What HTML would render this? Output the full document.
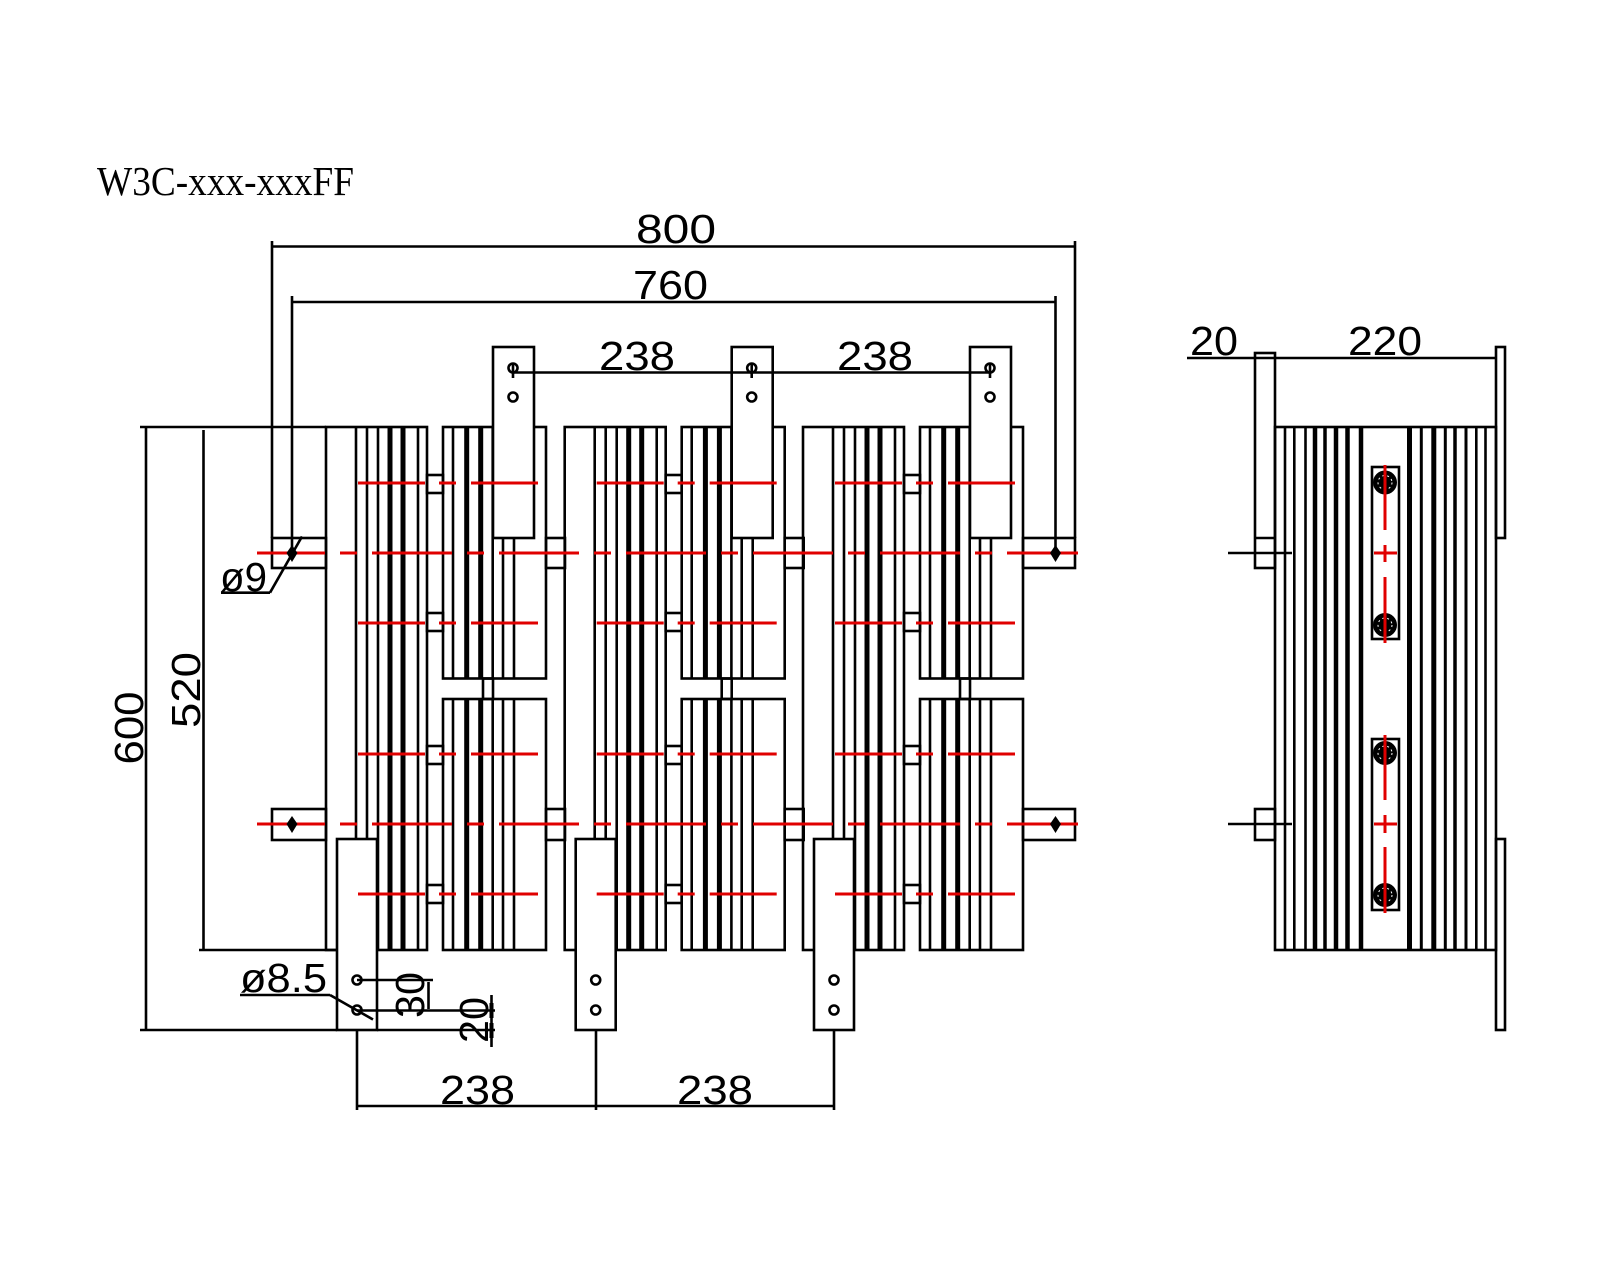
<!DOCTYPE html>
<html><head><meta charset="utf-8"><style>
html,body{margin:0;padding:0;background:#fff;}
svg{display:block;}
text{font-family:"Liberation Sans",sans-serif;fill:#000;}
</style></head><body>
<svg width="1600" height="1280" viewBox="0 0 1600 1280" xmlns="http://www.w3.org/2000/svg">
<rect x="0" y="0" width="1600" height="1280" fill="#fff"/>

<!-- Title -->
<text x="97" y="195" font-size="41" textLength="257" lengthAdjust="spacingAndGlyphs" style="font-family:'Liberation Serif',serif">W3C-xxx-xxxFF</text>

<!-- ===== Dimension extension lines (front) ===== -->
<g stroke="#000" stroke-width="2.6" fill="none">
  <!-- 800 -->
  <line x1="272" y1="241" x2="272" y2="538"/>
  <line x1="1075" y1="241" x2="1075" y2="538"/>
  <line x1="272" y1="246.5" x2="1075" y2="246.5"/>
  <!-- 760 -->
  <line x1="292" y1="296" x2="292" y2="553"/>
  <line x1="1055.5" y1="296" x2="1055.5" y2="553"/>
  <line x1="292" y1="302" x2="1055.5" y2="302"/>
  <!-- 600 -->
  <line x1="140" y1="427" x2="326" y2="427"/>
  <line x1="146" y1="427" x2="146" y2="1030"/>
  <line x1="140" y1="1030" x2="337" y2="1030"/>
  <line x1="377" y1="1030" x2="495" y2="1030"/>
  <!-- 520 -->
  <line x1="203.5" y1="430" x2="203.5" y2="950"/>
  <line x1="199" y1="950" x2="337" y2="950"/>
  <!-- bottom 238 -->
  <line x1="357" y1="1030" x2="357" y2="1110"/>
  <line x1="596" y1="1030" x2="596" y2="1110"/>
  <line x1="834" y1="1030" x2="834" y2="1110"/>
  <line x1="357" y1="1106" x2="834" y2="1106"/>
</g>

<!-- ===== Phase groups ===== -->
<!-- Group 0 -->
<g>
  <g stroke="#000" stroke-width="2.6" fill="none">
    <rect x="326" y="427" width="101" height="523"/>
    <line x1="356" y1="427" x2="356" y2="950"/>
    <line x1="367" y1="427" x2="367" y2="950"/>
    <line x1="378" y1="427" x2="378" y2="950"/>
    <line x1="418" y1="427" x2="418" y2="950"/>
    <line x1="390" y1="427" x2="390" y2="950" stroke-width="5"/>
    <line x1="403" y1="427" x2="403" y2="950" stroke-width="5"/>
    <rect x="427" y="475" width="16" height="18"/>
    <rect x="427" y="613" width="16" height="18"/>
    <rect x="427" y="746" width="16" height="18"/>
    <rect x="427" y="885" width="16" height="18"/>
    <rect x="443" y="427" width="103" height="251.5"/>
    <line x1="453" y1="427" x2="453" y2="678.5"/>
    <line x1="466.7" y1="427" x2="466.7" y2="678.5" stroke-width="5"/>
    <line x1="480.7" y1="427" x2="480.7" y2="678.5" stroke-width="5"/>
    <line x1="492.7" y1="427" x2="492.7" y2="678.5"/>
    <line x1="503" y1="427" x2="503" y2="678.5"/>
    <line x1="514" y1="427" x2="514" y2="678.5"/>
    <rect x="443" y="699" width="103" height="251"/>
    <line x1="453" y1="699" x2="453" y2="950"/>
    <line x1="466.7" y1="699" x2="466.7" y2="950" stroke-width="5"/>
    <line x1="480.7" y1="699" x2="480.7" y2="950" stroke-width="5"/>
    <line x1="492.7" y1="699" x2="492.7" y2="950"/>
    <line x1="503" y1="699" x2="503" y2="950"/>
    <line x1="514" y1="699" x2="514" y2="950"/>
    <rect x="483" y="678.5" width="10" height="20.5"/>
    <rect x="546" y="538" width="19" height="30"/>
    <rect x="546" y="809" width="19" height="31"/>
    <rect x="493" y="347" width="41" height="191" fill="#fff"/>
    <circle cx="513" cy="368" r="4.5"/>
    <circle cx="513" cy="397" r="4.5"/>
    <rect x="337" y="839" width="40" height="191" fill="#fff"/>
    <circle cx="357" cy="980" r="4.5"/>
    <circle cx="357" cy="1010" r="4.5"/>
  </g>
  <g stroke="#e00000" stroke-width="3">
    <line x1="358" y1="483" x2="425" y2="483"/><line x1="439" y1="483" x2="456" y2="483"/><line x1="471" y1="483" x2="538" y2="483"/>
    <line x1="358" y1="623" x2="425" y2="623"/><line x1="439" y1="623" x2="456" y2="623"/><line x1="471" y1="623" x2="538" y2="623"/>
    <line x1="358" y1="754" x2="425" y2="754"/><line x1="439" y1="754" x2="456" y2="754"/><line x1="471" y1="754" x2="538" y2="754"/>
    <line x1="358" y1="894" x2="425" y2="894"/><line x1="439" y1="894" x2="456" y2="894"/><line x1="471" y1="894" x2="538" y2="894"/>
  </g>
</g>

<!-- Group 1 -->
<g transform="translate(238.7,0)">
  <g stroke="#000" stroke-width="2.6" fill="none">
    <rect x="326" y="427" width="101" height="523"/>
    <line x1="356" y1="427" x2="356" y2="950"/>
    <line x1="367" y1="427" x2="367" y2="950"/>
    <line x1="378" y1="427" x2="378" y2="950"/>
    <line x1="418" y1="427" x2="418" y2="950"/>
    <line x1="390" y1="427" x2="390" y2="950" stroke-width="5"/>
    <line x1="403" y1="427" x2="403" y2="950" stroke-width="5"/>
    <rect x="427" y="475" width="16" height="18"/>
    <rect x="427" y="613" width="16" height="18"/>
    <rect x="427" y="746" width="16" height="18"/>
    <rect x="427" y="885" width="16" height="18"/>
    <rect x="443" y="427" width="103" height="251.5"/>
    <line x1="453" y1="427" x2="453" y2="678.5"/>
    <line x1="466.7" y1="427" x2="466.7" y2="678.5" stroke-width="5"/>
    <line x1="480.7" y1="427" x2="480.7" y2="678.5" stroke-width="5"/>
    <line x1="492.7" y1="427" x2="492.7" y2="678.5"/>
    <line x1="503" y1="427" x2="503" y2="678.5"/>
    <line x1="514" y1="427" x2="514" y2="678.5"/>
    <rect x="443" y="699" width="103" height="251"/>
    <line x1="453" y1="699" x2="453" y2="950"/>
    <line x1="466.7" y1="699" x2="466.7" y2="950" stroke-width="5"/>
    <line x1="480.7" y1="699" x2="480.7" y2="950" stroke-width="5"/>
    <line x1="492.7" y1="699" x2="492.7" y2="950"/>
    <line x1="503" y1="699" x2="503" y2="950"/>
    <line x1="514" y1="699" x2="514" y2="950"/>
    <rect x="483" y="678.5" width="10" height="20.5"/>
    <rect x="546" y="538" width="19" height="30"/>
    <rect x="546" y="809" width="19" height="31"/>
    <rect x="493" y="347" width="41" height="191" fill="#fff"/>
    <circle cx="513" cy="368" r="4.5"/>
    <circle cx="513" cy="397" r="4.5"/>
    <rect x="337" y="839" width="40" height="191" fill="#fff"/>
    <circle cx="357" cy="980" r="4.5"/>
    <circle cx="357" cy="1010" r="4.5"/>
  </g>
  <g stroke="#e00000" stroke-width="3">
    <line x1="358" y1="483" x2="425" y2="483"/><line x1="439" y1="483" x2="456" y2="483"/><line x1="471" y1="483" x2="538" y2="483"/>
    <line x1="358" y1="623" x2="425" y2="623"/><line x1="439" y1="623" x2="456" y2="623"/><line x1="471" y1="623" x2="538" y2="623"/>
    <line x1="358" y1="754" x2="425" y2="754"/><line x1="439" y1="754" x2="456" y2="754"/><line x1="471" y1="754" x2="538" y2="754"/>
    <line x1="358" y1="894" x2="425" y2="894"/><line x1="439" y1="894" x2="456" y2="894"/><line x1="471" y1="894" x2="538" y2="894"/>
  </g>
</g>

<!-- Group 2 -->
<g transform="translate(477,0)">
  <g stroke="#000" stroke-width="2.6" fill="none">
    <rect x="326" y="427" width="101" height="523"/>
    <line x1="356" y1="427" x2="356" y2="950"/>
    <line x1="367" y1="427" x2="367" y2="950"/>
    <line x1="378" y1="427" x2="378" y2="950"/>
    <line x1="418" y1="427" x2="418" y2="950"/>
    <line x1="390" y1="427" x2="390" y2="950" stroke-width="5"/>
    <line x1="403" y1="427" x2="403" y2="950" stroke-width="5"/>
    <rect x="427" y="475" width="16" height="18"/>
    <rect x="427" y="613" width="16" height="18"/>
    <rect x="427" y="746" width="16" height="18"/>
    <rect x="427" y="885" width="16" height="18"/>
    <rect x="443" y="427" width="103" height="251.5"/>
    <line x1="453" y1="427" x2="453" y2="678.5"/>
    <line x1="466.7" y1="427" x2="466.7" y2="678.5" stroke-width="5"/>
    <line x1="480.7" y1="427" x2="480.7" y2="678.5" stroke-width="5"/>
    <line x1="492.7" y1="427" x2="492.7" y2="678.5"/>
    <line x1="503" y1="427" x2="503" y2="678.5"/>
    <line x1="514" y1="427" x2="514" y2="678.5"/>
    <rect x="443" y="699" width="103" height="251"/>
    <line x1="453" y1="699" x2="453" y2="950"/>
    <line x1="466.7" y1="699" x2="466.7" y2="950" stroke-width="5"/>
    <line x1="480.7" y1="699" x2="480.7" y2="950" stroke-width="5"/>
    <line x1="492.7" y1="699" x2="492.7" y2="950"/>
    <line x1="503" y1="699" x2="503" y2="950"/>
    <line x1="514" y1="699" x2="514" y2="950"/>
    <rect x="483" y="678.5" width="10" height="20.5"/>
    <rect x="493" y="347" width="41" height="191" fill="#fff"/>
    <circle cx="513" cy="368" r="4.5"/>
    <circle cx="513" cy="397" r="4.5"/>
    <rect x="337" y="839" width="40" height="191" fill="#fff"/>
    <circle cx="357" cy="980" r="4.5"/>
    <circle cx="357" cy="1010" r="4.5"/>
  </g>
  <g stroke="#e00000" stroke-width="3">
    <line x1="358" y1="483" x2="425" y2="483"/><line x1="439" y1="483" x2="456" y2="483"/><line x1="471" y1="483" x2="538" y2="483"/>
    <line x1="358" y1="623" x2="425" y2="623"/><line x1="439" y1="623" x2="456" y2="623"/><line x1="471" y1="623" x2="538" y2="623"/>
    <line x1="358" y1="754" x2="425" y2="754"/><line x1="439" y1="754" x2="456" y2="754"/><line x1="471" y1="754" x2="538" y2="754"/>
    <line x1="358" y1="894" x2="425" y2="894"/><line x1="439" y1="894" x2="456" y2="894"/><line x1="471" y1="894" x2="538" y2="894"/>
  </g>
</g>

<!-- Mounting tabs -->
<g stroke="#000" stroke-width="2.6" fill="none">
  <rect x="272" y="538" width="54" height="30"/>
  <rect x="272" y="809" width="54" height="31"/>
  <rect x="1023" y="538" width="52" height="30"/>
  <rect x="1023" y="809" width="52" height="31"/>
</g>

<!-- Tab centerlines -->
<g stroke="#e00000" stroke-width="3" stroke-dasharray="80 15 17 15" stroke-dashoffset="12">
  <line x1="257" y1="553" x2="1078" y2="553"/>
  <line x1="257" y1="824" x2="1078" y2="824"/>
</g>

<!-- Tab hole markers -->
<g fill="#000">
  <polygon points="292,545 297.5,553 292,562 286.5,553"/>
  <polygon points="292,816 297.5,824 292,833 286.5,824"/>
  <polygon points="1055.5,545 1061,553 1055.5,562 1050,553"/>
  <polygon points="1055.5,816 1061,824 1055.5,833 1050,824"/>
</g>

<!-- Dimensions drawn over plates -->
<g stroke="#000" stroke-width="2.6" fill="none">
  <line x1="513" y1="372.5" x2="990" y2="372.5"/>
  <line x1="513" y1="364" x2="513" y2="378"/>
  <line x1="751.7" y1="364" x2="751.7" y2="378"/>
  <line x1="990" y1="364" x2="990" y2="378"/>
  <!-- phi 9 -->
  <line x1="221" y1="592.7" x2="270" y2="592.7"/>
  <line x1="270" y1="592.7" x2="302" y2="536.5"/>
  <!-- phi 8.5 -->
  <line x1="240" y1="995" x2="330" y2="995"/>
  <line x1="330" y1="995" x2="373" y2="1019.5"/>
  <!-- 30 / 20 -->
  <line x1="357" y1="980" x2="433" y2="980"/>
  <line x1="357" y1="1010.5" x2="495" y2="1010.5"/>
  <line x1="428.5" y1="982" x2="428.5" y2="1009"/>
  <line x1="491.5" y1="995" x2="491.5" y2="1047"/>
  <line x1="491.5" y1="1003" x2="491.5" y2="1018" stroke-width="4"/>
  <line x1="491.5" y1="1023" x2="491.5" y2="1038" stroke-width="4"/>
</g>

<!-- Dimension texts -->
<g font-size="41">
  <text x="636" y="243" textLength="80" lengthAdjust="spacingAndGlyphs">800</text>
  <text x="633" y="299" textLength="75" lengthAdjust="spacingAndGlyphs">760</text>
  <text x="599" y="370" textLength="76" lengthAdjust="spacingAndGlyphs">238</text>
  <text x="837" y="370" textLength="76" lengthAdjust="spacingAndGlyphs">238</text>
  <text x="440" y="1104" textLength="75" lengthAdjust="spacingAndGlyphs">238</text>
  <text x="677" y="1104" textLength="76" lengthAdjust="spacingAndGlyphs">238</text>
  <text x="220" y="591" textLength="47" lengthAdjust="spacingAndGlyphs">ø9</text>
  <text x="240" y="992" textLength="87" lengthAdjust="spacingAndGlyphs">ø8.5</text>
  <text transform="translate(143,728) rotate(-90)" x="-36.5" y="0" textLength="73" lengthAdjust="spacingAndGlyphs">600</text>
  <text transform="translate(200,690) rotate(-90)" x="-38" y="0" textLength="76" lengthAdjust="spacingAndGlyphs">520</text>
  <text transform="translate(424,995) rotate(-90)" x="-23" y="0" textLength="46" lengthAdjust="spacingAndGlyphs">30</text>
  <text transform="translate(488,1020) rotate(-90)" x="-23" y="0" textLength="46" lengthAdjust="spacingAndGlyphs">20</text>
  <text x="1190" y="355" textLength="48" lengthAdjust="spacingAndGlyphs">20</text>
  <text x="1348" y="355" textLength="74" lengthAdjust="spacingAndGlyphs">220</text>
</g>

<!-- ===== Side view ===== -->
<g stroke="#000" stroke-width="2.6" fill="none">
  <line x1="1187" y1="358" x2="1495" y2="358"/>
  <rect x="1255" y="353" width="20" height="215"/>
  <line x1="1255" y1="538" x2="1275" y2="538"/>
  <rect x="1255" y="809" width="20" height="31"/>
  <line x1="1228" y1="553" x2="1292" y2="553"/>
  <line x1="1228" y1="824" x2="1292" y2="824"/>
  <rect x="1275" y="427" width="221" height="523"/>
  <rect x="1496" y="347" width="9" height="191"/>
  <rect x="1496" y="839" width="9" height="191"/>
  <line x1="1285" y1="427" x2="1285" y2="950"/>
  <line x1="1294.3" y1="427" x2="1294.3" y2="950"/>
  <line x1="1305.5" y1="427" x2="1305.5" y2="950"/>
  <line x1="1315" y1="427" x2="1315" y2="950" stroke-width="4.5"/>
  <line x1="1325" y1="427" x2="1325" y2="950" stroke-width="3.5"/>
  <line x1="1336" y1="427" x2="1336" y2="950" stroke-width="4.5"/>
  <line x1="1347.5" y1="427" x2="1347.5" y2="950" stroke-width="4.5"/>
  <line x1="1361" y1="427" x2="1361" y2="950" stroke-width="4.5"/>
  <line x1="1409.5" y1="427" x2="1409.5" y2="950" stroke-width="5"/>
  <line x1="1421.3" y1="427" x2="1421.3" y2="950" stroke-width="3"/>
  <line x1="1433.8" y1="427" x2="1433.8" y2="950" stroke-width="5"/>
  <line x1="1445.3" y1="427" x2="1445.3" y2="950" stroke-width="3"/>
  <line x1="1455" y1="427" x2="1455" y2="950" stroke-width="3.5"/>
  <line x1="1466" y1="427" x2="1466" y2="950" stroke-width="3"/>
  <line x1="1476.3" y1="427" x2="1476.3" y2="950"/>
  <line x1="1485.5" y1="427" x2="1485.5" y2="950"/>
  <rect x="1372" y="467" width="27" height="172"/>
  <rect x="1372" y="739" width="27" height="171"/>
</g>
<g fill="#000">
  <circle cx="1385" cy="482.5" r="12"/>
  <circle cx="1385" cy="625" r="12"/>
  <circle cx="1385" cy="753" r="12"/>
  <circle cx="1385" cy="895" r="12"/>
</g>
<g fill="none" stroke="#fff" stroke-width="1" stroke-dasharray="2 3">
  <circle cx="1385" cy="482.5" r="7"/>
  <circle cx="1385" cy="625" r="7"/>
  <circle cx="1385" cy="753" r="7"/>
  <circle cx="1385" cy="895" r="7"/>
</g>
<g stroke="#e00000" stroke-width="3">
  <line x1="1385" y1="465" x2="1385" y2="530"/>
  <line x1="1385" y1="545" x2="1385" y2="562"/>
  <line x1="1385" y1="577" x2="1385" y2="643"/>
  <line x1="1374" y1="553" x2="1397" y2="553"/>
  <line x1="1385" y1="735" x2="1385" y2="800"/>
  <line x1="1385" y1="815" x2="1385" y2="833"/>
  <line x1="1385" y1="847" x2="1385" y2="913"/>
  <line x1="1374" y1="824" x2="1397" y2="824"/>
</g>
</svg>
</body></html>
